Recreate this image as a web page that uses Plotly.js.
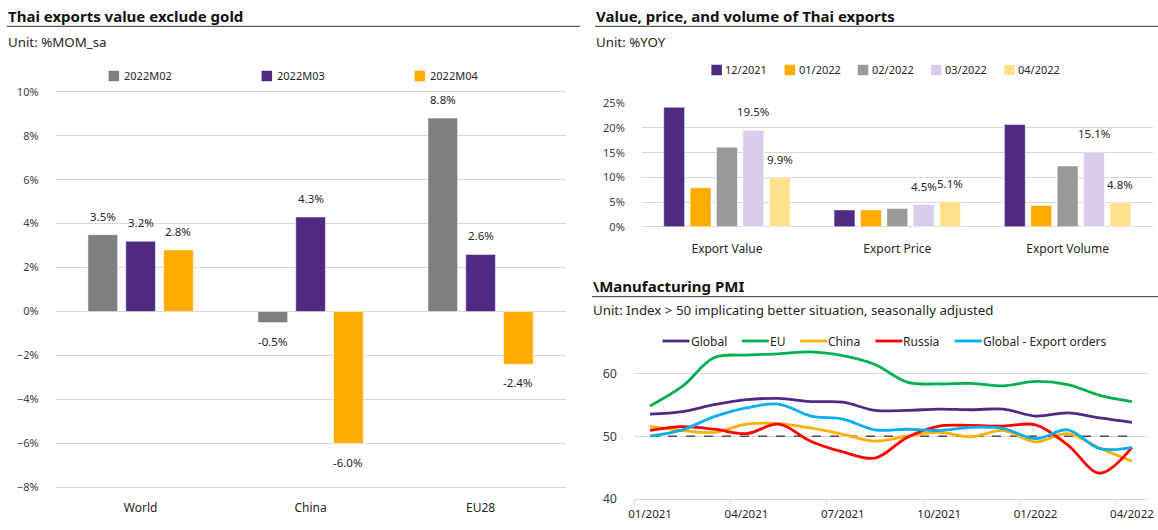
<!DOCTYPE html>
<html><head><meta charset="utf-8">
<script src="https://cdn.plot.ly/plotly-3.0.1.min.js"></script>
<style>html,body{margin:0;padding:0;background:#fff}#chart{width:1158px;height:530px}</style>
</head><body><div id="chart"></div>
<script>
// ---------- Chart 1: Thai exports value exclude gold (%MOM_sa) ----------
const regions = ['World', 'China', 'EU28'];
const months1 = ['2022M02', '2022M03', '2022M04'];
const m02 = [3.5, -0.5, 8.8];
const m03 = [3.2, 4.3, 2.6];
const m04 = [2.8, -6.0, -2.4];

// ---------- Chart 2: Value, price, and volume of Thai exports (%YOY) ----------
const exportCats = ['Export Value', 'Export Price', 'Export Volume'];
const periods2 = ['12/2021', '01/2022', '02/2022', '03/2022', '04/2022'];
const dec21 = [24.2, 3.4, 20.7];
const jan22 = [7.9, 3.4, 4.3];
const feb22 = [16.1, 3.7, 12.3];
const mar22 = [19.5, 4.5, 15.1];
const apr22 = [9.9, 5.1, 4.8];

// ---------- Chart 3: Manufacturing PMI ----------
const pmiMonths = ['01/2021','02/2021','03/2021','04/2021','05/2021','06/2021','07/2021','08/2021',
                   '09/2021','10/2021','11/2021','12/2021','01/2022','02/2022','03/2022','04/2022'];
const pmiGlobal = [53.5, 53.9, 55.0, 55.8, 56.0, 55.5, 55.4, 54.1, 54.1, 54.3, 54.2, 54.3, 53.2, 53.7, 52.9, 52.2];
const pmiEU     = [54.8, 57.9, 62.5, 62.9, 63.1, 63.4, 62.8, 61.4, 58.6, 58.3, 58.4, 58.0, 58.7, 58.2, 56.5, 55.5];
const pmiChina  = [51.5, 50.9, 50.6, 51.9, 52.0, 51.3, 50.3, 49.2, 50.0, 50.6, 49.9, 50.9, 49.1, 50.4, 48.1, 46.0];
const pmiRussia = [50.9, 51.5, 51.1, 50.4, 51.9, 49.2, 47.5, 46.5, 49.8, 51.6, 51.7, 51.6, 51.8, 48.6, 44.1, 48.2];
const pmiExportOrders = [50.0, 51.0, 53.1, 54.5, 55.1, 53.2, 52.7, 51.0, 51.1, 50.9, 51.4, 51.2, 49.6, 51.0, 48.0, 48.2];
const pmiNames = ['Global', 'EU', 'China', 'Russia', 'Global - Export orders'];
const pmiThreshold = 50;

// ---------- helpers / styling ----------
const W = 1158, H = 530;
const px = x => x / W;
const py = y => 1 - y / H;
const FONT = '"Noto Sans", "Open Sans", sans-serif';
const GRID = '#d9d9d9';
const TXT = '#262626';

const c1Colors = ['#7f7f7f', '#4f2a80', '#ffab00'];
const c2Colors = ['#4f2a80', '#ffab00', '#999999', '#d9ccec', '#ffe08c'];
const c3Colors = ['#4f2a80', '#00b050', '#ffb000', '#ff0000', '#00b0f0'];

const traces = [];
const annotations = [];
const shapes = [];
const LBL = 11.5;

// Chart 1 bars
const c1Series = [m02, m03, m04];
const c1Width = 0.1744, c1Step = 0.2225;
c1Series.forEach((vals, j) => {
  const off = (j - 1) * c1Step - c1Width / 2;
  traces.push({
    type: 'bar', x: regions, y: vals, name: months1[j], xaxis: 'x', yaxis: 'y',
    width: c1Width, offset: off, showlegend: false, hoverinfo: 'x+y+name',
    marker: { color: c1Colors[j], line: { color: 'rgba(255,255,255,0.5)', width: 1 } }
  });
  vals.forEach((v, i) => {
    annotations.push({
      xref: 'x', yref: 'y', x: i + off + c1Width / 2, y: v,
      text: v.toFixed(1) + '%', showarrow: false,
      yanchor: v >= 0 ? 'bottom' : 'top', yshift: v >= 0 ? 9 : -9,
      font: { family: FONT, size: LBL, color: TXT }
    });
  });
});

// Chart 2 bars
const c2Series = [dec21, jan22, feb22, mar22, apr22];
const c2Width = 0.1227, c2Step = 0.155;
c2Series.forEach((vals, j) => {
  const off = (j - 2) * c2Step - c2Width / 2;
  traces.push({
    type: 'bar', x: exportCats, y: vals, name: periods2[j], xaxis: 'x2', yaxis: 'y2',
    width: c2Width, offset: off, showlegend: false, hoverinfo: 'x+y+name',
    marker: { color: c2Colors[j], line: { color: 'rgba(255,255,255,0.5)', width: 1 } }
  });
  if (j >= 3) {
    vals.forEach((v, i) => {
      annotations.push({
        xref: 'x2', yref: 'y2', x: i + off + c2Width / 2, y: v,
        text: v.toFixed(1) + '%', showarrow: false, yanchor: 'bottom', yshift: 9,
        font: { family: FONT, size: LBL, color: TXT }
      });
    });
  }
});

// Chart 3 lines
[pmiGlobal, pmiEU, pmiChina, pmiRussia, pmiExportOrders].forEach((vals, j) => {
  traces.push({
    type: 'scatter', mode: 'lines', x: pmiMonths, y: vals, name: pmiNames[j],
    xaxis: 'x3', yaxis: 'y3', showlegend: false,
    line: { color: c3Colors[j], width: 2.8, shape: 'spline', smoothing: 1 }
  });
});
// threshold line at 50
shapes.push({
  type: 'line', xref: 'x3', yref: 'y3', x0: 0, x1: pmiMonths.length - 1,
  y0: pmiThreshold, y1: pmiThreshold, layer: 'between',
  line: { color: '#000', width: 1, dash: 'dash' }
});

// ---------- titles & underlines ----------
function addText(text, x, y, size, bold, color) {
  annotations.push({
    xref: 'paper', yref: 'paper', x: px(x), y: py(y), xanchor: 'left', yanchor: 'middle',
    text: bold ? '<b>' + text + '</b>' : text, showarrow: false,
    font: { family: FONT, size: size, color: color || TXT }
  });
}
function hline(x0, x1, y, color, width) {
  shapes.push({ type: 'line', xref: 'paper', yref: 'paper', x0: px(x0), x1: px(x1), y0: py(y), y1: py(y),
    line: { color: color, width: width } });
}
addText('Thai exports value exclude gold', 6, 15.5, 15, true, '#111');
hline(7, 580, 26.3, '#595959', 1.3);
addText('Unit: %MOM_sa', 6, 41.5, 13.3, false);

addText('Value, price, and volume of Thai exports', 594, 15.5, 15, true, '#111');
hline(595, 1158, 26.3, '#595959', 1.3);
addText('Unit: %YOY', 594, 41.5, 13.3, false);

addText('\\Manufacturing PMI', 591, 285.5, 15, true, '#111');
hline(592, 1158, 296.7, '#595959', 1.3);
addText('Unit: Index &gt; 50 implicating better situation, seasonally adjusted', 591, 309.5, 13.3, false);

// ---------- custom legends ----------
function squareLegend(names, colors, x0, step, yc, size, gap) {
  names.forEach((n, j) => {
    const x = x0 + j * step;
    shapes.push({ type: 'rect', xref: 'paper', yref: 'paper', x0: px(x), x1: px(x + size),
      y0: py(yc + size / 2), y1: py(yc - size / 2), fillcolor: colors[j], line: { width: 0 } });
    addText(n, x + size + gap, yc, 11, false);
  });
}
squareLegend(months1, c1Colors, 108.6, 153, 76, 10.5, 3);
squareLegend(periods2, c2Colors, 711.4, 73.2, 70, 10.5, 1.5);

// PMI line legend
const ctx = document.createElement('canvas').getContext('2d');
ctx.font = '12px "Noto Sans"';
let lx = 662.5;
pmiNames.forEach((n, j) => {
  shapes.push({ type: 'line', xref: 'paper', yref: 'paper', x0: px(lx), x1: px(lx + 27),
    y0: py(341), y1: py(341), line: { color: c3Colors[j], width: 2.8 } });
  addText(n, lx + 26, 341, 12, false);
  lx += 27 + ctx.measureText(n).width + 16;
});

const tickFont = { family: FONT, size: 11, color: '#404040' };
const catFont = { family: FONT, size: 12, color: TXT };

const layout = {
  width: W, height: H,
  margin: { l: 0, r: 0, t: 0, b: 0 },
  paper_bgcolor: '#fff', plot_bgcolor: '#fff',
  showlegend: false,
  font: { family: FONT, color: TXT },
  xaxis: {
    domain: [px(55.6), px(565.6)], anchor: 'y', type: 'category',
    showgrid: false, showline: false, zeroline: false, ticks: '',
    tickfont: catFont, ticklabelstandoff: 10, fixedrange: true
  },
  yaxis: {
    domain: [py(488.6), py(90.6)], anchor: 'x', range: [-8.05, 10.05],
    tickmode: 'linear', tick0: 0, dtick: 2, ticksuffix: '%',
    gridcolor: GRID, gridwidth: 1, zeroline: true, zerolinecolor: GRID, zerolinewidth: 1.2,
    showline: false, ticks: '', tickfont: tickFont, ticklabelstandoff: 16, fixedrange: true
  },
  xaxis2: {
    domain: [px(641.8), px(1152.8)], anchor: 'y2', type: 'category',
    showgrid: false, showline: false, zeroline: false, ticks: '',
    tickfont: catFont, ticklabelstandoff: 12, fixedrange: true
  },
  yaxis2: {
    domain: [py(227.7), py(102.3)], anchor: 'x2', range: [-0.2, 25.2],
    tickmode: 'linear', tick0: 0, dtick: 5, ticksuffix: '%',
    gridcolor: GRID, gridwidth: 1, zeroline: true, zerolinecolor: GRID, zerolinewidth: 1.2,
    showline: false, ticks: '', tickfont: tickFont, ticklabelstandoff: 16, fixedrange: true
  },
  xaxis3: {
    domain: [px(634), px(1148)], anchor: 'y3', type: 'category',
    range: [-0.5, 15.5], tickmode: 'linear', tick0: 0, dtick: 3, tickson: 'boundaries',
    tickangle: 0,
    ticks: 'outside', ticklen: 5, tickcolor: GRID, showline: true, linecolor: GRID, linewidth: 1,
    showgrid: false, zeroline: false, tickfont: { family: FONT, size: 11.5, color: TXT },
    ticklabelstandoff: 4, fixedrange: true
  },
  yaxis3: {
    domain: [py(499), py(345)], anchor: 'x3', range: [40, 64.5],
    tickvals: [40, 50, 60], gridcolor: GRID, gridwidth: 1, zeroline: false,
    showline: false, ticks: '', tickfont: { family: FONT, size: 12.5, color: '#404040' },
    ticklabelstandoff: 16, fixedrange: true
  },
  annotations: annotations,
  shapes: shapes
};

Plotly.newPlot('chart', traces, layout, { displayModeBar: false, staticPlot: true });
</script>
</body></html>
